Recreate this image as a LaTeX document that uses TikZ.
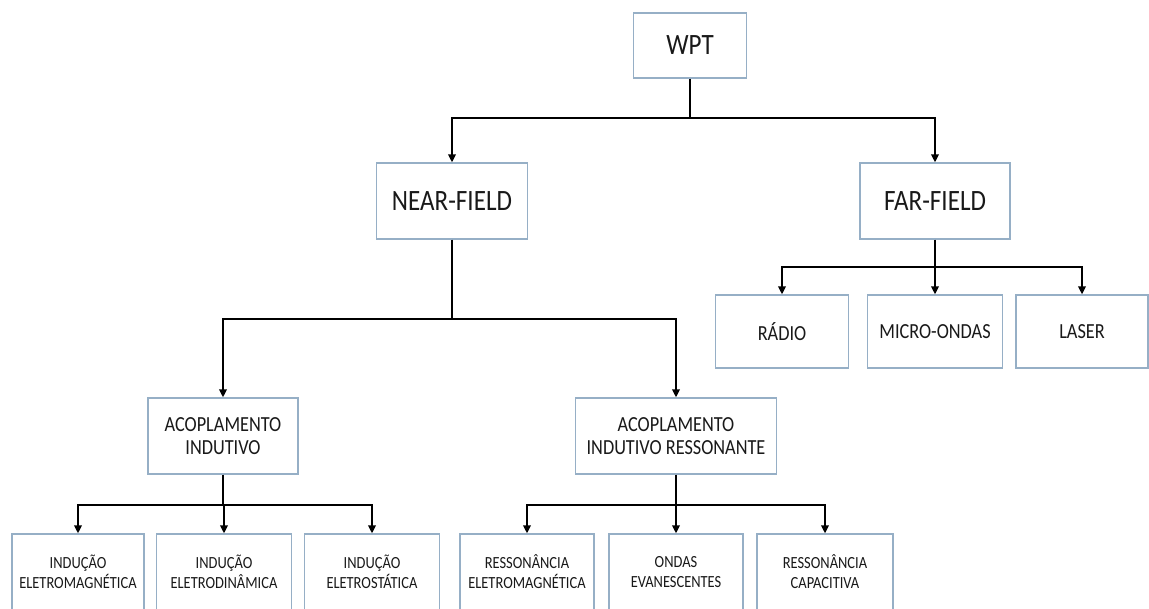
\documentclass[tikz,border=0pt]{standalone}
\usepackage{fontspec}
\usetikzlibrary{arrows.meta}
\newfontfamily\calfont[FakeStretch=0.85]{Carlito}
\definecolor{boxc}{RGB}{150,175,198}
\definecolor{txtc}{RGB}{25,25,25}
\begin{document}
\begin{tikzpicture}[x=1pt,y=-1pt,
  boxbase/.style={draw=boxc,line width=1.3pt,fill=white,inner sep=0pt,align=center,text=txtc},
  bigbox/.style={boxbase,font=\calfont\fontsize{29.5}{32}\selectfont},
  midbox/.style={boxbase,font=\calfont\fontsize{21.5}{23}\selectfont},
  smallbox/.style={boxbase,font=\calfont\fontsize{17}{20}\selectfont},
  conn/.style={line width=1.8pt,black},
  arr/.style={conn,-{Triangle[length=8pt,width=7.5pt]}}]
\useasboundingbox (0,0) rectangle (1149,608);
\clip (0,0) rectangle (1149,608);
% top
\node[bigbox,minimum width=113pt,minimum height=65pt] (wpt) at (690,45.5) {WPT};
\node[bigbox,minimum width=151pt,minimum height=76pt] (near) at (452,201) {NEAR-FIELD};
\node[bigbox,minimum width=150pt,minimum height=76pt] (far) at (935,201) {FAR-FIELD};
% far-field children
\node[midbox,minimum width=133pt,minimum height=73pt] (radio) at (782,331.5) {RÁDIO};
\node[midbox,minimum width=135pt,minimum height=73pt] (micro) at (935,331.5) {MICRO-ONDAS};
\node[midbox,minimum width=132pt,minimum height=73pt] (laser) at (1082,331.5) {LASER};
% near-field children
\node[midbox,minimum width=150pt,minimum height=76pt] (ai) at (223,436) {ACOPLAMENTO\\INDUTIVO};
\node[midbox,minimum width=201pt,minimum height=76pt] (air) at (676,436) {ACOPLAMENTO\\INDUTIVO RESSONANTE};
% bottom row
\node[smallbox,minimum width=132pt,minimum height=76pt] (b1) at (78,572) {INDUÇÃO\\ELETROMAGNÉTICA};
\node[smallbox,minimum width=135pt,minimum height=76pt] (b2) at (224,572) {INDUÇÃO\\ELETRODINÂMICA};
\node[smallbox,minimum width=135pt,minimum height=76pt] (b3) at (372,572) {INDUÇÃO\\ELETROSTÁTICA};
\node[smallbox,minimum width=134pt,minimum height=76pt] (b4) at (527,572) {RESSONÂNCIA\\ELETROMAGNÉTICA};
\node[smallbox,minimum width=134pt,minimum height=76pt] (b5) at (676,572) {ONDAS\\EVANESCENTES};
\node[smallbox,minimum width=136pt,minimum height=76pt] (b6) at (825,572) {RESSONÂNCIA\\CAPACITIVA};
% junctions
\coordinate (j1) at (690,118);
\coordinate (j2) at (452,319);
\coordinate (j3) at (935,267);
\coordinate (j4) at (223,505);
\coordinate (j5) at (676,505);
% connectors
\draw[conn] (wpt) -- (j1);
\draw[arr] (j1) -| (near);
\draw[arr] (j1) -| (far);
\draw[conn] (near) -- (j2);
\draw[arr] (j2) -| (ai);
\draw[arr] (j2) -| (air);
\draw[conn] (far) -- (j3);
\draw[arr] (j3) -| (radio);
\draw[arr] (j3) -- (micro);
\draw[arr] (j3) -| (laser);
\draw[conn] (ai) -- (j4);
\draw[arr] (j4) -| (b1);
\draw[arr] (j4) -| (b2);
\draw[arr] (j4) -| (b3);
\draw[conn] (air) -- (j5);
\draw[arr] (j5) -| (b4);
\draw[arr] (j5) -| (b5);
\draw[arr] (j5) -| (b6);
\end{tikzpicture}
\end{document}
